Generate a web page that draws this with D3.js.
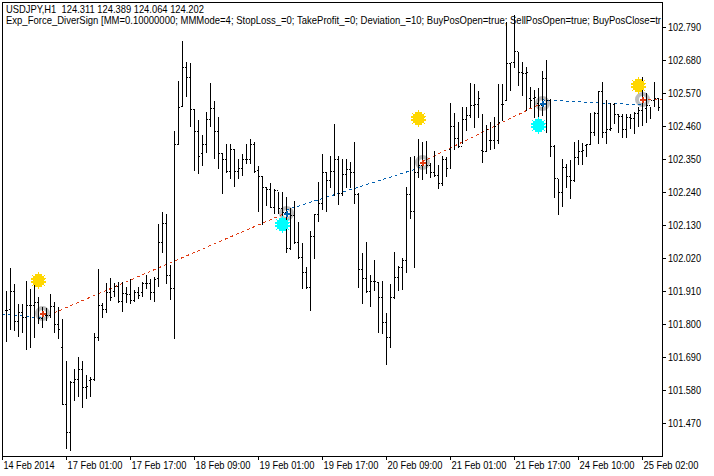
<!DOCTYPE html>
<html>
<head>
<meta charset="utf-8">
<script src="https://cdn.jsdelivr.net/npm/d3@7"></script>
<style>
  html, body { margin: 0; padding: 0; background: #fff; }
  text { font-family: "Liberation Sans", sans-serif; font-size: 11px; fill: #000; }
</style>
</head>
<body>
<div id="chart"></div>
<script>
var highs = [
101.910,101.986,101.934,101.867,101.867,101.944,101.917,101.953,101.890,101.857,
101.854,101.900,101.874,101.857,101.817,101.677,101.610,101.650,101.690,101.677,
101.630,101.624,101.770,101.983,101.870,101.937,101.953,101.937,101.940,101.940,
101.924,101.950,101.913,101.924,101.940,101.963,101.950,101.957,102.133,102.173,
102.167,101.996,102.444,102.610,102.744,102.673,102.670,102.517,102.480,102.430,
102.506,102.603,102.544,102.490,102.370,102.400,102.400,102.384,102.350,102.367,
102.400,102.417,102.407,102.327,102.293,102.257,102.270,102.250,102.240,102.240,
102.223,102.186,102.210,102.140,102.070,101.990,102.110,102.167,102.273,102.367,
102.307,102.360,102.467,102.360,102.350,102.350,102.340,102.407,102.237,102.037,
102.073,101.963,102.013,101.940,101.944,101.837,101.934,102.040,101.993,102.020,
102.257,102.357,102.360,102.417,102.407,102.410,102.337,102.377,102.330,102.360,
102.357,102.537,102.503,102.473,102.523,102.523,102.603,102.600,102.577,102.500,
102.463,102.473,102.490,102.600,102.600,102.807,102.670,102.830,102.707,102.673,
102.657,102.590,102.580,102.587,102.643,102.680,102.550,102.397,102.283,102.350,
102.333,102.347,102.407,102.413,102.403,102.400,102.503,102.507,102.577,102.607,
102.547,102.537,102.537,102.500,102.500,102.500,102.500,102.507,102.523,102.623,
102.570,102.523,102.607,102.553];
var lows = [
101.744,101.783,101.780,101.760,101.773,101.717,101.723,101.757,101.803,101.790,
101.813,101.823,101.773,101.754,101.533,101.387,101.380,101.547,101.560,101.523,
101.553,101.560,101.613,101.747,101.823,101.840,101.880,101.893,101.873,101.843,
101.873,101.870,101.877,101.887,101.893,101.920,101.883,101.877,101.927,102.040,
101.937,101.883,101.753,102.400,102.527,102.560,102.460,102.313,102.303,102.330,
102.373,102.460,102.353,102.320,102.237,102.307,102.287,102.260,102.287,102.297,
102.337,102.337,102.307,102.177,102.133,102.197,102.190,102.170,102.170,102.130,
102.040,102.050,102.070,102.020,101.920,101.920,101.847,102.020,102.143,102.183,
102.177,102.257,102.230,102.200,102.230,102.257,102.257,102.203,101.923,101.870,
101.907,101.860,101.913,101.773,101.770,101.667,101.723,101.887,101.913,101.917,
101.973,102.153,101.990,102.290,102.283,102.303,102.290,102.293,102.253,102.263,
102.293,102.320,102.383,102.390,102.403,102.447,102.490,102.457,102.490,102.340,
102.377,102.383,102.387,102.403,102.480,102.547,102.580,102.657,102.597,102.563,
102.513,102.523,102.490,102.440,102.497,102.440,102.360,102.223,102.167,102.193,
102.257,102.220,102.277,102.333,102.333,102.360,102.400,102.430,102.403,102.423,
102.403,102.447,102.470,102.440,102.423,102.423,102.453,102.437,102.460,102.463,
102.473,102.487,102.527,102.513];
var opens = [
101.847,101.850,101.910,101.810,101.840,101.823,101.863,101.863,101.873,101.820,
101.830,101.830,101.860,101.800,101.723,101.533,101.440,101.607,101.617,101.650,
101.590,101.613,101.617,101.757,101.863,101.850,101.907,101.910,101.927,101.877,
101.903,101.900,101.880,101.907,101.907,101.937,101.937,101.907,101.953,102.073,
102.137,101.963,101.920,102.400,102.527,102.657,102.623,102.517,102.443,102.370,
102.400,102.483,102.520,102.443,102.370,102.350,102.310,102.383,102.310,102.320,
102.350,102.350,102.400,102.313,102.293,102.257,102.250,102.190,102.247,102.187,
102.173,102.053,102.163,102.073,102.023,101.973,101.923,102.093,102.167,102.203,
102.307,102.280,102.310,102.350,102.237,102.300,102.317,102.307,102.233,101.983,
101.953,101.910,101.943,101.940,101.890,101.807,101.757,101.890,101.957,101.990,
102.013,102.233,102.177,102.307,102.330,102.340,102.330,102.307,102.297,102.270,
102.350,102.383,102.460,102.420,102.393,102.483,102.497,102.530,102.533,102.380,
102.377,102.413,102.413,102.413,102.533,102.547,102.670,102.673,102.710,102.640,
102.637,102.553,102.553,102.537,102.530,102.620,102.547,102.393,102.287,102.240,
102.323,102.293,102.280,102.357,102.377,102.397,102.400,102.440,102.503,102.577,
102.440,102.450,102.533,102.500,102.493,102.450,102.490,102.487,102.503,102.513,
102.520,102.530,102.547,102.553];
var closes = [
101.847,101.910,101.810,101.840,101.823,101.863,101.863,101.873,101.820,101.837,
101.830,101.860,101.800,101.783,101.533,101.440,101.607,101.617,101.650,101.590,
101.593,101.617,101.757,101.863,101.850,101.907,101.890,101.927,101.877,101.903,
101.900,101.880,101.907,101.897,101.937,101.937,101.907,101.950,102.073,102.137,
101.963,101.920,102.400,102.523,102.657,102.623,102.517,102.443,102.360,102.400,
102.483,102.520,102.443,102.370,102.350,102.310,102.383,102.310,102.320,102.350,
102.350,102.400,102.310,102.293,102.257,102.250,102.190,102.247,102.187,102.173,
102.053,102.163,102.073,102.023,101.973,101.923,102.093,102.167,102.203,102.307,
102.280,102.310,102.350,102.237,102.300,102.317,102.307,102.233,101.983,101.953,
101.910,101.943,101.943,101.890,101.807,101.757,101.890,101.957,101.990,102.013,
102.233,102.177,102.307,102.330,102.340,102.330,102.307,102.297,102.270,102.350,
102.320,102.460,102.420,102.393,102.483,102.497,102.530,102.533,102.553,102.377,
102.450,102.413,102.460,102.473,102.533,102.670,102.673,102.710,102.640,102.637,
102.640,102.547,102.557,102.530,102.620,102.547,102.393,102.287,102.240,102.323,
102.293,102.280,102.357,102.377,102.380,102.400,102.440,102.503,102.577,102.440,
102.450,102.453,102.500,102.493,102.450,102.490,102.487,102.503,102.513,102.550,
102.530,102.547,102.553,102.523];

var priceTicks = [102.79,102.68,102.57,102.46,102.35,102.24,102.13,102.02,101.91,101.80,101.69,101.58,101.47];
var timeTickBars = [-1,15,31,47,63,79,95,111,127,143,159];
var timeTickLabels = ["14 Feb 2014","17 Feb 01:00","17 Feb 17:00","18 Feb 09:00","19 Feb 01:00","19 Feb 17:00","20 Feb 09:00","21 Feb 01:00","21 Feb 17:00","24 Feb 10:00","25 Feb 02:00"];

// trade lines: bar index and price at both ends
var tradeBars = [[-1,9],[12,70],[70,104],[104,134],[134,159],[159,164]];
var tradePrices = [[101.833,101.820],[101.837,102.170],[102.180,102.323],[102.340,102.537],[102.547,102.530],[102.550,102.550]];
var tradeKinds = ["buy","sell","buy","sell","buy","sell"];

var dealBars = [9,70,104,134,159];
var dealPrices = [101.837,102.170,102.340,102.537,102.550];
var dealKinds = ["sell","buy","sell","buy","sell"];

var sunBars = [8,103,158];
var sunPrices = [101.947,102.487,102.597];
var cyanBars = [69,133];
var cyanPrices = [102.133,102.463];

var header1 = "USDJPY,H1  124.311 124.389 124.064 124.202";
var header2 = "Exp_Force_DiverSign [MM=0.10000000; MMMode=4; StopLoss_=0; TakeProfit_=0; Deviation_=10; BuyPosOpen=true; SellPosOpen=true; BuyPosClose=tr";

var width = 714, height = 476;
var left = 2, right = 662, top_ = 2, bottom = 456;
var red = "#e03c14", blue = "#0060b0";

var x = d3.scaleLinear().domain([-1,163]).range([2,658]);
var y = d3.scaleLinear().domain([102.79,101.47]).range([27,423]);

function px(i) { return Math.round(x(i)); }
function py(v) { return Math.round(y(v)); }

var svg = d3.select("#chart").append("svg")
  .attr("width", width)
  .attr("height", height)
  .style("display", "block");

svg.append("defs").append("clipPath").attr("id", "plot")
  .append("rect")
  .attr("x", left).attr("y", top_)
  .attr("width", right - left).attr("height", bottom - top_);

var plot = svg.append("g").attr("clip-path", "url(#plot)");

// grey rings go under the bars
plot.selectAll("circle.ring").data(dealBars).enter().append("circle")
  .attr("class", "ring")
  .attr("cx", function(d) { return px(d) + 0.5; })
  .attr("cy", function(d, i) { return py(dealPrices[i]) + 0.5; })
  .attr("r", 5.5)
  .attr("fill", "none")
  .attr("stroke", "#bdbdbd")
  .attr("stroke-width", 4);

plot.selectAll("line.trade").data(tradeBars).enter().append("line")
  .attr("class", "trade")
  .attr("x1", function(d) { return x(d[0]); })
  .attr("x2", function(d) { return x(d[1]); })
  .attr("y1", function(d, i) { return y(tradePrices[i][0]); })
  .attr("y2", function(d, i) { return y(tradePrices[i][1]); })
  .attr("stroke", function(d, i) { return tradeKinds[i] == "buy" ? blue : red; })
  .attr("stroke-width", 1)
  .attr("stroke-dasharray", "3 3")
  .attr("shape-rendering", "crispEdges");

var bars = plot.append("g").attr("shape-rendering", "crispEdges");

highs.forEach(function(h, i) {
  var g = bars.append("g");
  g.append("rect")
    .attr("x", px(i)).attr("y", py(h))
    .attr("width", 1).attr("height", py(lows[i]) - py(h) + 1);
  g.append("rect")
    .attr("x", px(i) - 1).attr("y", py(opens[i]))
    .attr("width", 1).attr("height", 1);
  g.append("rect")
    .attr("x", px(i) + 1).attr("y", py(closes[i]))
    .attr("width", 1).attr("height", 1);
});

plot.selectAll("path.deal").data(dealBars).enter().append("path")
  .attr("class", "deal")
  .attr("d", d3.symbol().type(d3.symbolCross).size(20))
  .attr("transform", function(d, i) {
    return "translate(" + (px(d) + 0.5) + "," + (py(dealPrices[i]) + 0.5) + ")";
  })
  .attr("fill", function(d, i) { return dealKinds[i] == "buy" ? blue : red; })
  .attr("shape-rendering", "crispEdges");

function burstPath(r1, r2, n) {
  var pts = [];
  for (var k = 0; k < n * 2; k++) {
    var a = Math.PI * k / n;
    var r = k % 2 ? r2 : r1;
    pts.push([r * Math.sin(a), -r * Math.cos(a)]);
  }
  return d3.line()(pts) + "Z";
}

function drawBursts(barList, priceList, colour) {
  plot.selectAll(null).data(barList).enter().append("path")
    .attr("d", burstPath(8.2, 5.8, 14))
    .attr("transform", function(d, i) {
      return "translate(" + (px(d) + 0.5) + "," + (py(priceList[i]) + 0.5) + ")";
    })
    .attr("fill", colour)
    .attr("shape-rendering", "crispEdges");
}
drawBursts(sunBars, sunPrices, "#ffd700");
drawBursts(cyanBars, cyanPrices, "#00ffff");

// frame
svg.append("path")
  .attr("d", "M" + (left + 0.5) + "," + bottom + "V" + (top_ + 0.5) + "H" + (right + 0.5) + "V" + (bottom + 0.5) + "H" + (left + 0.5))
  .attr("fill", "none")
  .attr("stroke", "#000")
  .attr("shape-rendering", "crispEdges");

var xAxis = d3.axisBottom(x)
  .tickValues(timeTickBars)
  .tickFormat(function(d, i) { return timeTickLabels[i]; })
  .tickSize(4)
  .tickPadding(4);

var yAxis = d3.axisRight(y)
  .tickValues(priceTicks)
  .tickFormat(d3.format(".3f"))
  .tickSize(4)
  .tickPadding(2);

var gx = svg.append("g")
  .attr("transform", "translate(0," + bottom + ")")
  .call(xAxis);
gx.select(".domain").remove();
gx.selectAll("line").attr("shape-rendering", "crispEdges");
gx.selectAll("text")
  .attr("text-anchor", "start")
  .attr("x", 1)
  .attr("y", 13)
  .attr("dy", 0)
  .attr("textLength", function(d, i) { return i == 0 ? 51 : 55; })
  .attr("lengthAdjust", "spacingAndGlyphs");

var gy = svg.append("g")
  .attr("transform", "translate(" + right + ",0)")
  .call(yAxis);
gy.select(".domain").remove();
gy.selectAll("line").attr("shape-rendering", "crispEdges");
gy.selectAll("text")
  .attr("textLength", 33)
  .attr("lengthAdjust", "spacingAndGlyphs");

svg.selectAll(".tick text")
  .style("font-family", '"Liberation Sans", sans-serif')
  .style("font-size", "11px");

// the long second line runs into the price axis in the original, so it ends there
var head = svg.append("g");
head.append("text").attr("x", 6).attr("y", 13)
  .style("white-space", "pre")
  .attr("textLength", 198).attr("lengthAdjust", "spacingAndGlyphs")
  .text(header1);
head.append("text").attr("x", 6).attr("y", 24)
  .attr("textLength", 655).attr("lengthAdjust", "spacingAndGlyphs")
  .text(header2);
</script>
</body>
</html>
